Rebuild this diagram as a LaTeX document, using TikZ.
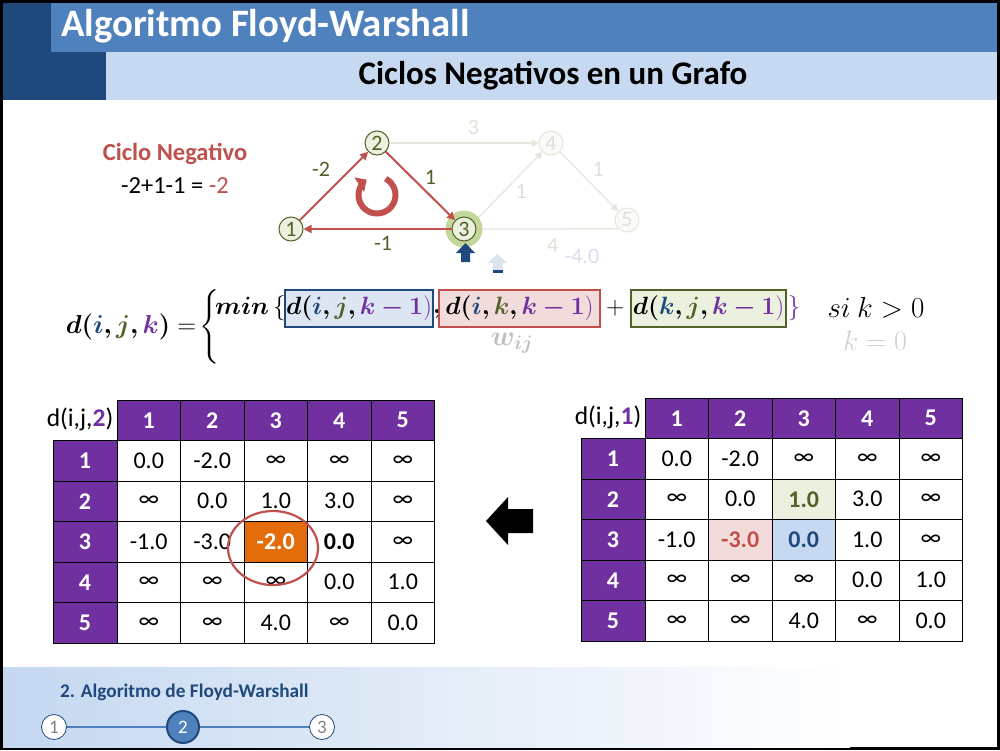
\RequirePackage{fix-cm}
\documentclass[tikz,border=0pt]{standalone}
\usepackage{amsmath}
\usepackage{bm}
\usepackage{fontspec}
\setmainfont{Carlito}
\usetikzlibrary{arrows.meta,calc}

\definecolor{hdrDark}{HTML}{1F497D}
\definecolor{hdrMid}{HTML}{4F81BD}
\definecolor{hdrLight}{HTML}{C6D9F1}
\definecolor{accRed}{HTML}{C0504D}
\definecolor{myolive}{HTML}{4F6228}
\definecolor{purp}{HTML}{7030A0}
\definecolor{nodeFill}{HTML}{EBF1DE}
\definecolor{haloGreen}{HTML}{C3D69B}
\definecolor{fadeLine}{HTML}{E3E8DC}
\definecolor{fadeText}{HTML}{DDE2D6}
\definecolor{fadeFill}{HTML}{FAFBF7}
\definecolor{fadePurp}{HTML}{E3D9EE}
\definecolor{orangeCell}{HTML}{E46C0A}
\definecolor{boxBlue}{HTML}{DCE6F2}
\definecolor{boxRed}{HTML}{F2DCDB}
\definecolor{grayW}{HTML}{BFBFBF}
\definecolor{grayK}{HTML}{D0D0D0}
\definecolor{fadeArrow}{HTML}{DCE3EC}
\definecolor{footL}{HTML}{C5D8F0}

\newcommand{\inff}{\raisebox{-3pt}{∞}}
\newcommand{\ci}[1]{{\color{hdrDark}\bm{#1}}}
\newcommand{\cj}[1]{{\color{myolive}\bm{#1}}}
\newcommand{\ck}[1]{{\color{purp}\bm{#1}}}
\newcommand{\fsz}[1]{\fontsize{#1}{#1}\selectfont}

\begin{document}
\begin{tikzpicture}[x=1pt,y=-1pt,
  every node/.style={inner sep=0pt, font=\fsz{24}},
  cell/.style={draw=black, line width=1pt, fill=white, minimum width=63.5pt, minimum height=40.5pt},
  hcell/.style={cell, fill=purp, text=white, font=\fsz{24}\bfseries},
  rhcell/.style={hcell, minimum width=64pt},
  gnode/.style={circle, draw=myolive, fill=nodeFill, line width=1pt, minimum size=24pt, text=myolive, font=\fsz{22}},
  fnode/.style={gnode, draw=fadeLine, fill=fadeFill, text=fadeText},
  redge/.style={draw=accRed, line width=2pt, -{Triangle[length=8pt,width=8pt]}},
  fedge/.style={draw=fadeLine, line width=1.3pt, -{Triangle[length=7pt,width=7pt]}},
  elab/.style={text=myolive, font=\fsz{22}},
  flab/.style={text=fadeText, font=\fsz{22}},
  fbox/.style={line width=2pt, minimum height=37pt},
  fml/.style={font=\fsz{25}},
  fcirc/.style={circle, draw=hdrDark, fill=white, line width=0.8pt, minimum size=25pt, text=black!50, font=\fsz{19}}
]
\useasboundingbox (0,0) rectangle (1000,750);

% slide frame
\fill[black] (0,0) rectangle (1000,750);
\fill[white] (3,3) rectangle (997,747);

% header bands
\fill[hdrMid] (51,3) rectangle (997,52);
\fill[hdrLight] (106,52) rectangle (997,100);
\fill[hdrDark] (3,3) rectangle (51,52);
\fill[hdrDark] (3,52) rectangle (106,100);
\node[anchor=west, text=white, font=\fsz{38.8}\bfseries] (title) at (61,26) {Algoritmo Floyd-Warshall};
\node[font=\fsz{33}\bfseries] (subtitle) at (553,76) {Ciclos Negativos en un Grafo};

% footer band
\shade[left color=footL, right color=white] (3,667) rectangle (850,747);
\node[anchor=west, text=hdrDark, font=\fsz{19.3}\bfseries] (ftext) at (60,692) {2. Algoritmo de Floyd-Warshall};
\node[fcirc] (f1) at (54,727) {1};
\node[fcirc, fill=hdrMid, line width=2pt, minimum size=32pt, text=white] (f2) at (183,727) {2};
\node[fcirc] (f3) at (322,727) {3};
\draw[hdrMid, line width=1.5pt] (f1) -- (f2) (f2) -- (f3);

% negative cycle caption
\node[text=accRed, font=\fsz{24.5}\bfseries] (cyctitle) at (175,154) {Ciclo Negativo};
\node[font=\fsz{24.5}] (cycsum) at (175,186) {-2+1-1 = \textcolor{accRed}{-2}};

% graph
\node[fnode] (n4) at (551,143) {4};
\node[fnode] (n5) at (627,220) {5};
\node[gnode] (n1) at (291,229) {1};
\node[gnode] (n2) at (377,143) {2};
\coordinate (n3c) at (464,229);
\draw[fedge] (n2) -- node[flab, midway, xshift=9.5pt, yshift=16pt] (l24) {3} (n4);
\draw[fedge] (n3c) ++(12,-9) -- node[flab, midway, xshift=12pt, yshift=-5pt] (l34) {1} (n4);
\draw[fedge] (n4) -- node[flab, midway, xshift=9pt, yshift=12pt] (l45) {1} (n5);
\draw[draw=fadeLine, line width=1.3pt] (n5.225) -- node[flab, pos=0.45, xshift=4pt, yshift=-17pt] (l53) {4}
   node[pos=0.3, xshift=10pt, yshift=-28pt, text=fadePurp, font=\fsz{22}] (l53b) {-4.0} (n3c);
\node[circle, fill=haloGreen, minimum size=37pt] (halo) at (n3c) {};
\node[gnode] (n3) at (n3c) {3};
\draw[redge] (n1) -- node[elab, midway, xshift=-13pt, yshift=17pt] (l12) {-2} (n2);
\draw[redge] (n2) -- node[elab, midway, xshift=10pt, yshift=9pt] (l23) {1} (n3);
\draw[redge] (n3) -- node[elab, midway, xshift=5.5pt, yshift=-14pt] (l31) {-1} (n1);

% cycle direction arrow
\coordinate (cycc) at (377,195);
\draw[accRed, line width=6pt, -{Triangle[length=9pt,width=17pt]}]
  ($(cycc)+(-62:18.5)$) arc[start angle=-62, end angle=236, radius=18.5];

% pointers below vertex 3
\fill[hdrDark] (465.5,243) -- (475,253) -- (470,253) -- (470,262) -- (461,262) -- (461,253) -- (456,253) -- cycle;
\fill[fadeArrow] (497.5,254) -- (507,263) -- (502.5,263) -- (502.5,270) -- (492.5,270) -- (492.5,263) -- (488,263) -- cycle;
\fill[hdrDark] (492.5,269.5) rectangle (502.5,273);

% recurrence
\node[fml, font=\fsz{26}] (lhs) at (131,327) {$\bm{d(}\ci{i}\bm{,}\cj{j}\bm{,}\ck{k}\bm{)} =$};
\node[fml] (bigbrace) at (210,327) {$\left\{\vrule height 36pt depth 32pt width 0pt\right.$};
\node[fml, anchor=west] (minw) at (215,308) {$\bm{min}\,\{$};
\node[fml, fbox, draw=hdrDark, fill=boxBlue, minimum width=148pt] (b1) at (359,308)
  {$\bm{d(}\ci{i}\bm{,}\cj{j}\bm{,}\ck{k-1}{\color{purp})}$};
\node[fml] (comma) at (437,314) {$\bm{,}$};
\node[fml, fbox, draw=accRed, fill=boxRed, minimum width=161pt] (b2) at (519.5,308)
  {$\bm{d(}\ci{i}\bm{,}\cj{k}\bm{,}\ck{k-1}{\color{purp})}$};
\node[fml] (plus) at (615,308) {$+$};
\node[fml, fbox, draw=myolive, fill=nodeFill, minimum width=155pt] (b3) at (708.5,308)
  {$\bm{d(}\ci{k}\bm{,}\cj{j}\bm{,}\ck{k-1}{\color{purp})}$};
\node[fml, text=purp] (rbrace) at (794,308) {$\}$};
\node[fml, font=\fsz{29}] (cond1) at (876,308) {$si\ k>0$};
\node[fml, font=\fsz{28}, text=grayW] (wij) at (512,343) {$\bm{w_{ij}}$};
\node[fml, font=\fsz{28}, text=grayK] (cond0) at (875,341) {$k=0$};

% table d(i,j,2)
\node[font=\fsz{25.5}] (lablL) at (80,419) {d(i,j,\textcolor{purp}{\textbf{2}})};
\foreach \c in {1,...,5}
  \node[hcell] (LH-\c) at ({117+(\c-0.5)*63.5},420.25) {\c};
\foreach \r in {1,...,5}
  \node[rhcell] (LR-\r) at (85,{440.5+(\r-0.5)*40.5}) {\r};
\foreach \r/\vals in {1/{0.0,-2.0,\inff,\inff,\inff},
                      2/{\inff,0.0,1.0,3.0,\inff},
                      3/{-1.0,-3.0,{},\textbf{0.0},\inff},
                      4/{\inff,\inff,\inff,0.0,1.0},
                      5/{\inff,\inff,4.0,\inff,0.0}}
  \foreach \v [count=\c] in \vals
    \node[cell] (L-\r-\c) at ({117+(\c-0.5)*63.5},{440.5+(\r-0.5)*40.5}) {\v};
\node[cell, fill=orangeCell, text=white, font=\fsz{24}\bfseries] (L33) at (L-3-3) {-2.0};
\draw[accRed, line width=2.2pt] (273,548) ellipse[x radius=45, y radius=37];

% table d(i,j,1)
\node[font=\fsz{25.5}] (lablR) at (608,417) {d(i,j,\textcolor{purp}{\textbf{1}})};
\foreach \c in {1,...,5}
  \node[hcell] (RH-\c) at ({645+(\c-0.5)*63.5},418.25) {\c};
\foreach \r in {1,...,5}
  \node[rhcell] (RR-\r) at (613,{438.5+(\r-0.5)*40.5}) {\r};
\foreach \r/\vals in {1/{0.0,-2.0,\inff,\inff,\inff},
                      2/{\inff,0.0,{},3.0,\inff},
                      3/{-1.0,{},{},1.0,\inff},
                      4/{\inff,\inff,\inff,0.0,1.0},
                      5/{\inff,\inff,4.0,\inff,0.0}}
  \foreach \v [count=\c] in \vals
    \node[cell] (R-\r-\c) at ({645+(\c-0.5)*63.5},{438.5+(\r-0.5)*40.5}) {\v};
\node[cell, fill=nodeFill, text=myolive, font=\fsz{24}\bfseries] (R23) at (R-2-3) {1.0};
\node[cell, fill=boxRed, text=accRed, font=\fsz{24}\bfseries] (R32) at (R-3-2) {-3.0};
\node[cell, fill=hdrLight, text=hdrDark, font=\fsz{24}\bfseries] (R33) at (R-3-3) {0.0};

% step arrow between tables
\fill[black] (486,521) -- (508,497) -- (508,509) -- (533,509) -- (533,533) -- (508,533) -- (508,545) -- cycle;
\end{tikzpicture}
\end{document}
